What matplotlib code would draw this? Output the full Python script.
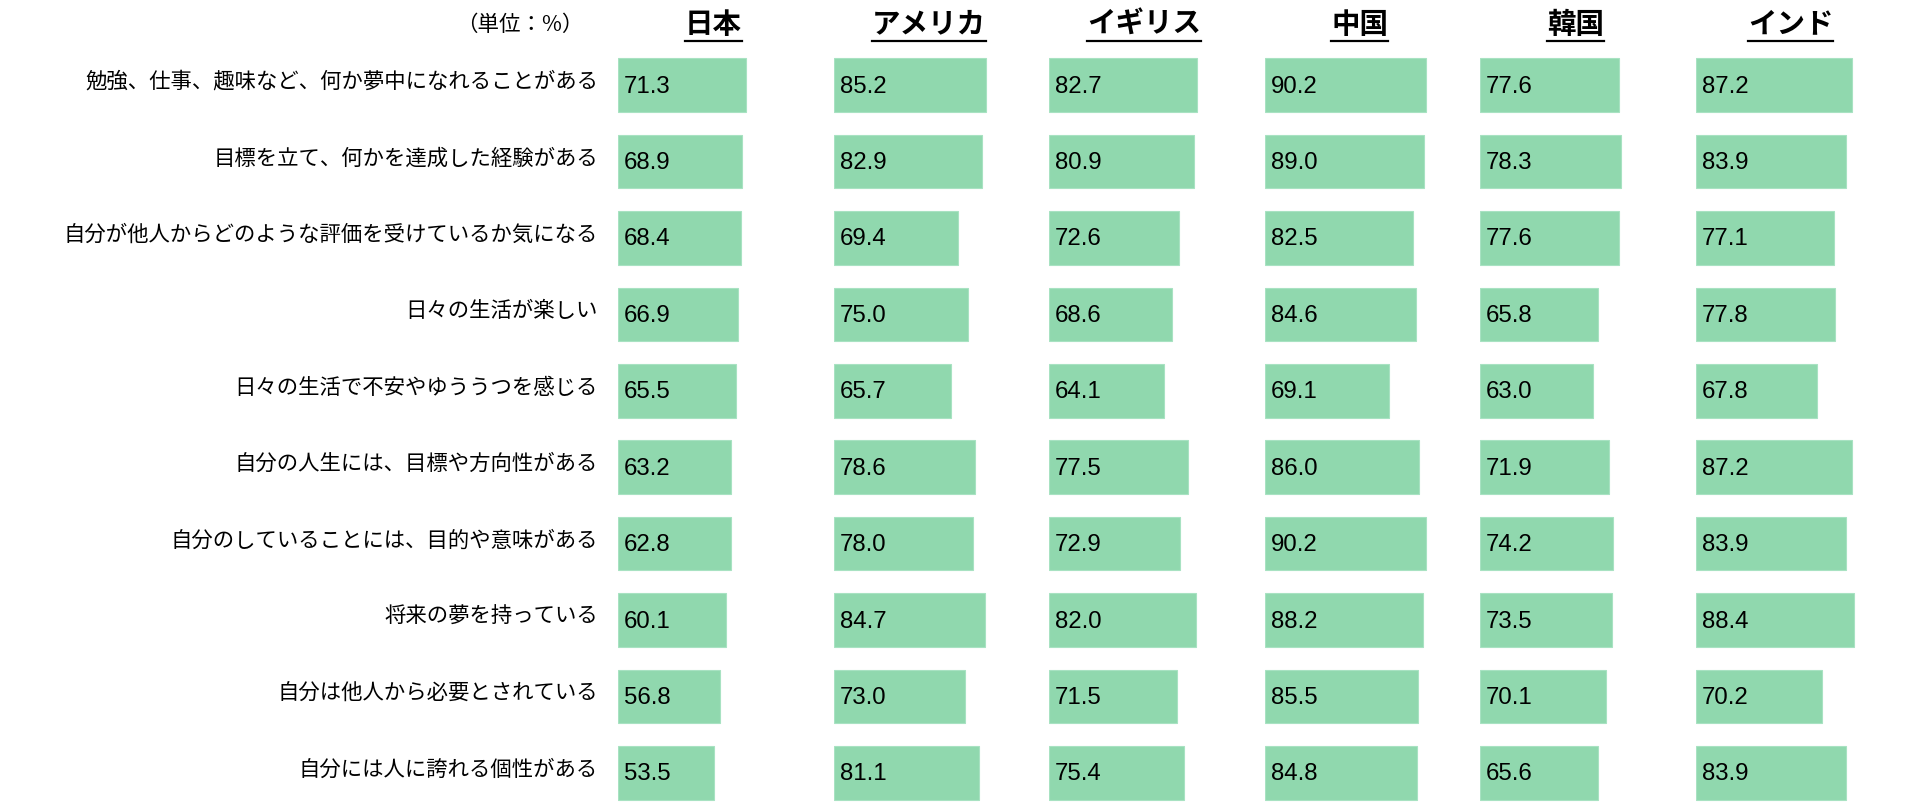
import matplotlib
matplotlib.use("Agg")
import matplotlib.pyplot as plt
from matplotlib.transforms import blended_transform_factory
from matplotlib.lines import Line2D

# ---------------- data ----------------
countries = ['日本', 'アメリカ', 'イギリス', '中国', '韓国', 'インド']
items = [
    '勉強、仕事、趣味など、何か夢中になれることがある',
    '目標を立て、何かを達成した経験がある',
    '自分が他人からどのような評価を受けているか気になる',
    '日々の生活が楽しい',
    '日々の生活で不安やゆううつを感じる',
    '自分の人生には、目標や方向性がある',
    '自分のしていることには、目的や意味がある',
    '将来の夢を持っている',
    '自分は他人から必要とされている',
    '自分には人に誇れる個性がある',
]
japan   = [71.3, 68.9, 68.4, 66.9, 65.5, 63.2, 62.8, 60.1, 56.8, 53.5]
usa     = [85.2, 82.9, 69.4, 75.0, 65.7, 78.6, 78.0, 84.7, 73.0, 81.1]
uk      = [82.7, 80.9, 72.6, 68.6, 64.1, 77.5, 72.9, 82.0, 71.5, 75.4]
china   = [90.2, 89.0, 82.5, 84.6, 69.1, 86.0, 90.2, 88.2, 85.5, 84.8]
korea   = [77.6, 78.3, 77.6, 65.8, 63.0, 71.9, 74.2, 73.5, 70.1, 65.6]
india   = [87.2, 83.9, 77.1, 77.8, 67.8, 87.2, 83.9, 88.4, 70.2, 83.9]
series = [japan, usa, uk, china, korea, india]
unit_label = '（単位：%）'

# ---------------- layout ----------------
W, H = 1918, 810
DPI = 100
fig = plt.figure(figsize=(W / DPI, H / DPI), dpi=DPI)
fig.patch.set_facecolor('white')

CJK = ['Noto Sans CJK JP', 'DejaVu Sans']
BAR_COLOR = '#90D8AE'

px_per_unit = 1.791
panel_left0 = 618.3
panel_step = 215.5
xmax = 100
row_center0 = 85.0
row_step = 76.44
ax_top_px = row_center0 - 0.5 * row_step
ax_h_px = H - ax_top_px
ylim_bottom = -0.5 + ax_h_px / row_step

axes = []
for i, (country, vals) in enumerate(zip(countries, series)):
    left = panel_left0 + i * panel_step
    ax = fig.add_axes([left / W, 0, xmax * px_per_unit / W, ax_h_px / H])
    ax.set_xlim(0, xmax)
    ax.set_ylim(ylim_bottom, -0.5)
    ax.axis('off')
    ypos = list(range(len(items)))
    ax.barh(ypos, vals, height=0.70, color=BAR_COLOR, edgecolor='#A8E2C2',
            linewidth=0.8, align='center')
    for y, v in zip(ypos, vals):
        ax.text(3.3, y + 0.02, f'{v:.1f}', ha='left', va='center',
                fontsize=17.3, family=['Liberation Sans', 'DejaVu Sans'],
                color='black')
    # header
    tr = blended_transform_factory(ax.transData, fig.transFigure)
    t = ax.text(53, 1 - 24.5 / H, country, transform=tr, ha='center',
                va='center', fontsize=20.5, fontweight='bold', family=CJK,
                color='black')
    axes.append((ax, t))

# row labels
ax0 = axes[0][0]
trl = blended_transform_factory(fig.transFigure, ax0.transData)
for y, lab in enumerate(items):
    ax0.text(598 / W, y - 0.04, lab, transform=trl, ha='right', va='center',
             fontsize=15.4, family=CJK, color='black')

# unit label
fig.text(583 / W, 1 - 25 / H, unit_label, ha='right', va='center',
         fontsize=15.5, family=CJK, color='black')

# underline the headers
fig.canvas.draw()
renderer = fig.canvas.get_renderer()
for ax, t in axes:
    bb = t.get_window_extent(renderer)
    yline = (H - 41) / H
    fig.add_artist(Line2D([bb.x0 / W, bb.x1 / W], [yline, yline],
                          transform=fig.transFigure, color='black', lw=1.6))

fig.savefig('out.png', dpi=DPI, facecolor='white')
